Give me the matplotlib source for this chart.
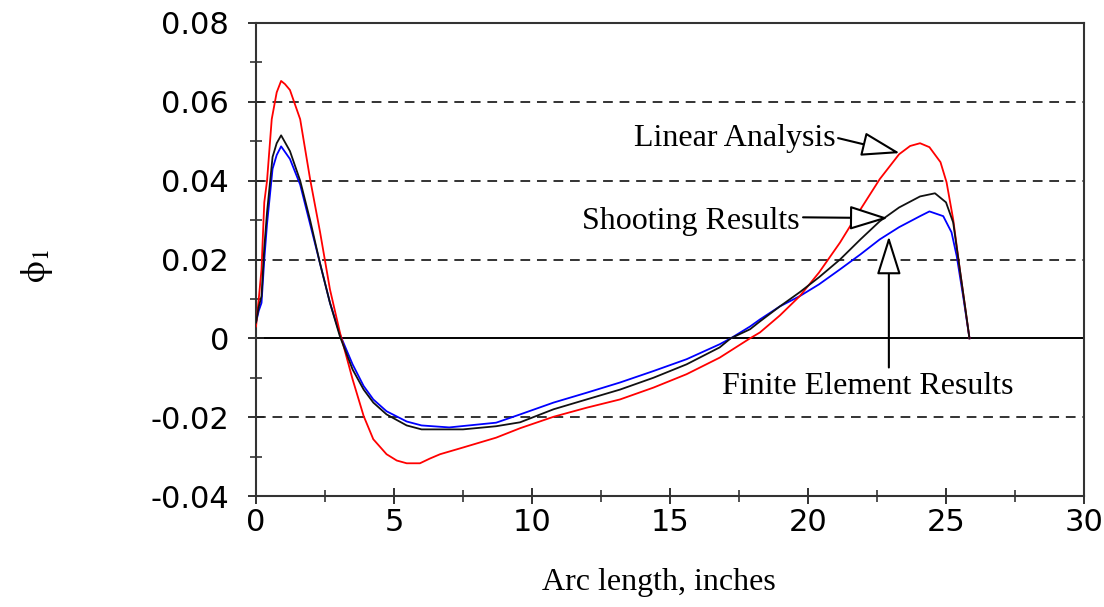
import matplotlib

matplotlib.use('Agg')

import matplotlib.pyplot as plt
from matplotlib.ticker import MultipleLocator, FixedLocator, FixedFormatter

plt.rcParams['mathtext.fontset'] = 'stix'

# Linear analysis (red)
lin_x = [0.0, 0.1, 0.2, 0.3, 0.4, 0.57, 0.75, 0.91, 1.05, 1.23, 1.6, 1.96, 2.32, 2.68,
         3.04, 3.5, 3.9, 4.25, 4.73, 5.1, 5.46, 5.94, 6.3, 6.67, 7.5, 8.7, 9.57, 10.78,
         11.98, 13.19, 14.4, 15.6, 16.8, 17.9, 18.26, 18.98, 19.7, 20.4, 21.16, 21.9,
         22.6, 23.3, 23.7, 24.06, 24.4, 24.8, 25.02, 25.26, 25.5, 25.69, 25.85]
lin_y = [0.003, 0.010, 0.0175, 0.0345, 0.040, 0.0556, 0.0624, 0.0653, 0.0645, 0.063,
         0.0556, 0.0404, 0.027, 0.0124, 0.0015, -0.0104, -0.0197, -0.0256, -0.0294,
         -0.031, -0.0317, -0.0317, -0.0305, -0.0294, -0.0277, -0.0252, -0.0228, -0.0199,
         -0.0176, -0.0155, -0.0125, -0.0091, -0.0049, 0.0, 0.0015, 0.0058, 0.0107, 0.0167,
         0.0243, 0.0327, 0.0404, 0.0467, 0.0488, 0.0495, 0.0485, 0.0447, 0.0396, 0.0302,
         0.0175, 0.0081, 0.0]

# Shooting results (black)
sho_x = [0.0, 0.1, 0.2, 0.3, 0.4, 0.6, 0.75, 0.91, 1.23, 1.6, 1.96, 2.32, 2.68, 3.04,
         3.5, 3.9, 4.25, 4.73, 5.46, 6.0, 7.5, 8.7, 9.57, 10.78, 11.98, 13.19, 14.4,
         15.6, 16.8, 17.2, 17.9, 18.26, 18.98, 19.7, 20.4, 21.16, 21.9, 22.6, 23.3,
         24.06, 24.6, 25.0, 25.26, 25.5, 25.69, 25.85]
sho_y = [0.004, 0.008, 0.0107, 0.023, 0.032, 0.046, 0.0495, 0.0515, 0.0475, 0.040,
         0.030, 0.019, 0.009, 0.0005, -0.0079, -0.013, -0.0163, -0.0193, -0.0221,
         -0.0231, -0.0231, -0.0223, -0.0213, -0.018, -0.0155, -0.013, -0.010, -0.0066,
         -0.0023, 0.0, 0.0023, 0.0043, 0.0081, 0.0117, 0.0155, 0.020, 0.0251, 0.0297,
         0.0332, 0.036, 0.0368, 0.0345, 0.0294, 0.0175, 0.0081, 0.0]

# Finite element results (blue)
fem_x = [0.0, 0.1, 0.2, 0.3, 0.4, 0.6, 0.75, 0.91, 1.23, 1.6, 1.96, 2.32, 2.68, 3.04,
         3.5, 3.9, 4.25, 4.73, 5.46, 6.0, 7.0, 8.7, 9.57, 10.78, 11.98, 13.19, 14.4,
         15.6, 16.8, 17.2, 17.9, 18.26, 18.98, 19.7, 20.4, 21.16, 21.9, 22.6, 23.3,
         24.06, 24.4, 24.9, 25.2, 25.39, 25.62, 25.85]
fem_y = [0.004, 0.007, 0.009, 0.020, 0.029, 0.043, 0.0465, 0.0487, 0.0455, 0.039,
         0.029, 0.019, 0.009, 0.001, -0.0066, -0.0121, -0.0155, -0.0185, -0.0211,
         -0.0221, -0.0226, -0.0214, -0.0193, -0.0163, -0.0138, -0.0112, -0.0083,
         -0.0053, -0.0015, 0.0, 0.003, 0.0048, 0.0081, 0.0107, 0.0137, 0.0175, 0.0213,
         0.0251, 0.0282, 0.031, 0.0322, 0.031, 0.0269, 0.0208, 0.0107, 0.0]

xticks = [0, 5, 10, 15, 20, 25, 30]
yticks = [-0.04, -0.02, 0, 0.02, 0.04, 0.06, 0.08]
ytick_labels = ['-0.04', '-0.02', '0', '0.02', '0.04', '0.06', '0.08']
dashed_levels = [-0.02, 0.02, 0.04, 0.06]

fig = plt.figure(figsize=(11.04, 6.07), dpi=100)
ax = fig.add_axes([256 / 1104, 1 - 496 / 607, (1084 - 256) / 1104, (496 - 23) / 607])

for lev in dashed_levels:
    ax.axhline(lev, color='#333333', lw=1.4, ls=(0, (5, 3.5)), zorder=1)
ax.axhline(0, color='black', lw=1.4, zorder=1)

ax.plot(lin_x, lin_y, color='#ff0000', lw=1.3, zorder=3)
ax.plot(sho_x, sho_y, color='#111111', lw=1.3, zorder=3)
ax.plot(fem_x, fem_y, color='#0000ff', lw=1.3, zorder=2)

ax.set_xlim(0, 30)
ax.set_ylim(-0.04, 0.08)

ax.xaxis.set_major_locator(FixedLocator(xticks))
ax.xaxis.set_minor_locator(MultipleLocator(2.5))
ax.yaxis.set_major_locator(FixedLocator(yticks))
ax.yaxis.set_major_formatter(FixedFormatter(ytick_labels))
ax.yaxis.set_minor_locator(MultipleLocator(0.01))

ax.tick_params(which='major', direction='inout', length=11, width=1.3, color='#222222',
               labelsize=22, labelcolor='black')
ax.tick_params(which='minor', direction='inout', length=8, width=1.1, color='#222222')
ax.tick_params(axis='y', which='major', pad=14)
ax.tick_params(axis='x', which='major', pad=3)

for sp in ax.spines.values():
    sp.set_color('#333333')
    sp.set_linewidth(1.5)

serif = 'Liberation Serif'
ax.text(21.0, 0.0487, 'Linear Analysis', ha='right', va='baseline',
        family=serif, fontsize=23)
ax.text(19.7, 0.0277, 'Shooting Results', ha='right', va='baseline',
        family=serif, fontsize=23)
ax.text(22.17, -0.0142, 'Finite Element Results', ha='center', va='baseline',
        family=serif, fontsize=23)

arrow = dict(arrowstyle='-|>,head_length=1.05,head_width=0.33', fc='white', ec='black',
             lw=1.5, shrinkA=0, shrinkB=0, mutation_scale=23)
ax.annotate('', xy=(23.33, 0.0470), xytext=(21.09, 0.0508), arrowprops=arrow)
ax.annotate('', xy=(22.9, 0.0305), xytext=(19.82, 0.0307), arrowprops=arrow)
ax.annotate('', xy=(22.93, 0.0259), xytext=(22.93, -0.0074), arrowprops=arrow)

fig.text(659 / 1104, 1 - 590 / 607, 'Arc length, inches', ha='center', va='baseline',
         family=serif, fontsize=23)
fig.text(37 / 1104, 1 - 266 / 607, r'$\mathrm{\phi}_{\mathrm{1}}$', ha='center',
         va='center', rotation=90, fontsize=25)

fig.savefig('out.png', dpi=100)
